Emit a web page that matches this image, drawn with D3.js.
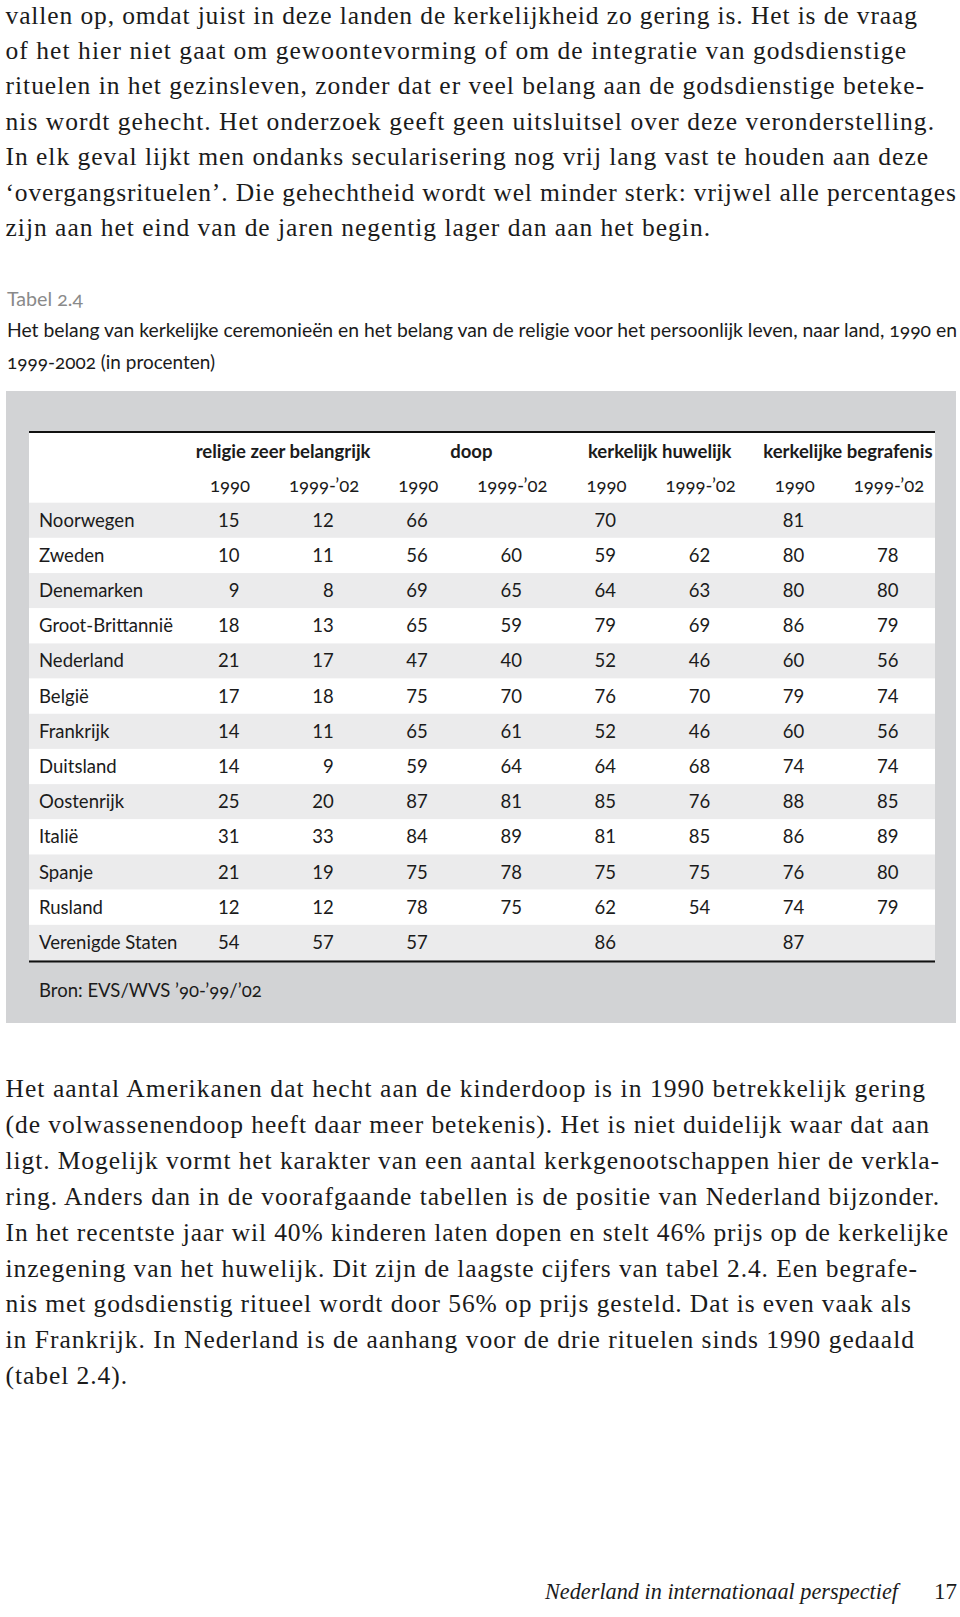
<!DOCTYPE html>
<html>
<head>
<meta charset="utf-8">
<script src="https://cdn.jsdelivr.net/npm/d3@7"></script>
<style>
  body { margin:0; background:#fff; }
  svg { display:block; }
</style>
</head>
<body>
<svg id="page" width="960" height="1617"></svg>
<script>
// table data (Tabel 2.4)
const countries = ["Noorwegen","Zweden","Denemarken","Groot-Brittannië","Nederland","België","Frankrijk","Duitsland","Oostenrijk","Italië","Spanje","Rusland","Verenigde Staten"];
const groups = ["religie zeer belangrijk","doop","kerkelijk huwelijk","kerkelijke begrafenis"];
const years = ["1990","1999-\u201902"];

const religie1990    = [15,10, 9,18,21,17,14,14,25,31,21,12,54];
const religie9902    = [12,11, 8,13,17,18,11, 9,20,33,19,12,57];
const doop1990       = [66,56,69,65,47,75,65,59,87,84,75,78,57];
const doop9902       = [null,60,65,59,40,70,61,64,81,89,78,75,null];
const huwelijk1990   = [70,59,64,79,52,76,52,64,85,81,75,62,86];
const huwelijk9902   = [null,62,63,69,46,70,46,68,76,85,75,54,null];
const begrafenis1990 = [81,80,80,86,60,79,60,74,88,86,76,74,87];
const begrafenis9902 = [null,78,80,79,56,74,56,74,85,89,80,79,null];
const columns = [religie1990,religie9902,doop1990,doop9902,huwelijk1990,huwelijk9902,begrafenis1990,begrafenis9902];

const tableTitle = "Tabel 2.4";
const captionLines = ["Het belang van kerkelijke ceremonieën en het belang van de religie voor het persoonlijk leven, naar land, 1990 en","1999-2002 (in procenten)"];
const source = "Bron: EVS/WVS \u201990-\u201999/\u201902";

const textTop = [
  "vallen op, omdat juist in deze landen de kerkelijkheid zo gering is. Het is de vraag",
  "of het hier niet gaat om gewoontevorming of om de integratie van godsdienstige",
  "rituelen in het gezinsleven, zonder dat er veel belang aan de godsdienstige beteke-",
  "nis wordt gehecht. Het onderzoek geeft geen uitsluitsel over deze veronderstelling.",
  "In elk geval lijkt men ondanks secularisering nog vrij lang vast te houden aan deze",
  "\u2018overgangsrituelen\u2019. Die gehechtheid wordt wel minder sterk: vrijwel alle percentages",
  "zijn aan het eind van de jaren negentig lager dan aan het begin."
];
const textBottom = [
  "Het aantal Amerikanen dat hecht aan de kinderdoop is in 1990 betrekkelijk gering",
  "(de volwassenendoop heeft daar meer betekenis). Het is niet duidelijk waar dat aan",
  "ligt. Mogelijk vormt het karakter van een aantal kerkgenootschappen hier de verkla-",
  "ring. Anders dan in de voorafgaande tabellen is de positie van Nederland bijzonder.",
  "In het recentste jaar wil 40% kinderen laten dopen en stelt 46% prijs op de kerkelijke",
  "inzegening van het huwelijk. Dit zijn de laagste cijfers van tabel 2.4. Een begrafe-",
  "nis met godsdienstig ritueel wordt door 56% op prijs gesteld. Dat is even vaak als",
  "in Frankrijk. In Nederland is de aanhang voor de drie rituelen sinds 1990 gedaald",
  "(tabel 2.4)."
];
const footer = "Nederland in internationaal perspectief";
const pageNo = "17";

// layout: right ends of the typeset lines
const topEnds = [917,906,924,934,928,956,710];
const bottomEnds = [925,929,939,939,948,917,911,914,127];

const svg = d3.select("#page");
const serif = "'Liberation Serif', 'DejaVu Serif', serif";
const sans = "Lato, 'Noto Sans', sans-serif";
const ink = "#1b1b1b";

function bodyLines(lines, ends, y0, lead){
  svg.append("g").selectAll("text").data(lines).join("text")
    .attr("x",5.5).attr("y",(d,i)=>y0+i*lead)
    .attr("font-family",serif).attr("font-size",25.5).attr("fill",ink)
    .attr("textLength",(d,i)=>ends[i]-5.5).attr("lengthAdjust","spacing")
    .text(d=>d);
}
bodyLines(textTop, topEnds, 23.5, 35.45);
bodyLines(textBottom, bottomEnds, 1097, 35.9);

// caption
svg.append("text").attr("x",7).attr("y",306)
  .attr("font-family",sans).attr("font-size",18.5).attr("fill","#8a8a8a")
  .style("font-variant-numeric","oldstyle-nums")
  .attr("textLength",76).attr("lengthAdjust","spacingAndGlyphs").text(tableTitle);
svg.append("g").selectAll("text").data(captionLines).join("text")
  .attr("x",7).attr("y",(d,i)=>337+i*32)
  .attr("font-family",sans).attr("font-size",18.5).attr("fill",ink)
  .style("font-variant-numeric","oldstyle-nums")
  .attr("textLength",(d,i)=>i===0?950:208).attr("lengthAdjust","spacingAndGlyphs")
  .text(d=>d);

// table frame
svg.append("rect").attr("x",6).attr("y",391).attr("width",950).attr("height",632).attr("fill","#d2d3d5");
const tableLeft = 29, tableRight = 935, tableTop = 432;
const y = d3.scaleBand().domain(countries).range([502.7,960]);
const x = d3.scalePoint().domain(d3.range(8)).range([230,889]);

svg.append("rect").attr("x",tableLeft).attr("y",tableTop)
  .attr("width",tableRight-tableLeft).attr("height",y.range()[1]-tableTop).attr("fill","#fff");
svg.append("g").selectAll("rect").data(countries).join("rect")
  .attr("x",tableLeft).attr("width",tableRight-tableLeft)
  .attr("y",d=>y(d)).attr("height",y.bandwidth())
  .attr("fill",(d,i)=>i%2===0?"#ebebec":"#fff");
svg.append("line").attr("x1",tableLeft).attr("x2",tableRight).attr("y1",tableTop).attr("y2",tableTop)
  .attr("stroke","#111").attr("stroke-width",2);
svg.append("line").attr("x1",tableLeft).attr("x2",tableRight)
  .attr("y1",y.range()[1]+1.5).attr("y2",y.range()[1]+1.5)
  .attr("stroke","#111").attr("stroke-width",2);

// condensed look: squeeze table text horizontally
const probe = svg.append("text").attr("font-family",sans).attr("font-size",18.5).text("Groot-Brittannië");
const k = 134/probe.node().getComputedTextLength();
probe.remove();
function squeeze(sel){
  sel.each(function(){
    const t = d3.select(this);
    const tx = +t.attr("x"), ty = +t.attr("y");
    t.attr("x",0).attr("y",0).attr("transform",`translate(${tx},${ty}) scale(${k},1)`);
  });
}

const tg = svg.append("g").attr("font-family",sans).attr("font-size",18.5).attr("fill",ink);
tg.selectAll("text.grp").data(groups).join("text").attr("class","grp")
  .attr("x",(d,i)=>(x(2*i)+x(2*i+1))/2+6).attr("y",458)
  .attr("text-anchor","middle").attr("font-weight",700).text(d=>d).call(squeeze);
tg.selectAll("text.yr").data(d3.range(8)).join("text").attr("class","yr")
  .attr("x",d=>x(d)).attr("y",492).attr("text-anchor","middle")
  .style("font-variant-numeric","oldstyle-nums")
  .text(d=>years[d%2]).call(squeeze);
tg.selectAll("text.cty").data(countries).join("text").attr("class","cty")
  .attr("x",39).attr("y",d=>y(d)+y.bandwidth()/2+6.5).text(d=>d).call(squeeze);

const cells = [];
columns.forEach((col,c)=>col.forEach((v,r)=>{ if(v!==null) cells.push({c,r,v}); }));
tg.selectAll("text.val").data(cells).join("text").attr("class","val")
  .attr("x",d=>x(d.c)+9.5).attr("y",d=>y(countries[d.r])+y.bandwidth()/2+6.5)
  .attr("text-anchor","end").text(d=>d.v).call(squeeze);

tg.append("text").attr("x",39).attr("y",997)
  .style("font-variant-numeric","oldstyle-nums").text(source).call(squeeze);

// running footer
svg.append("text").attr("x",545).attr("y",1599)
  .attr("font-family",serif).attr("font-style","italic").attr("font-size",24).attr("fill",ink)
  .attr("textLength",353).attr("lengthAdjust","spacingAndGlyphs").text(footer);
svg.append("text").attr("x",957).attr("y",1599).attr("text-anchor","end")
  .attr("font-family",serif).attr("font-size",23).attr("fill",ink).text(pageNo);
</script>
</body>
</html>
